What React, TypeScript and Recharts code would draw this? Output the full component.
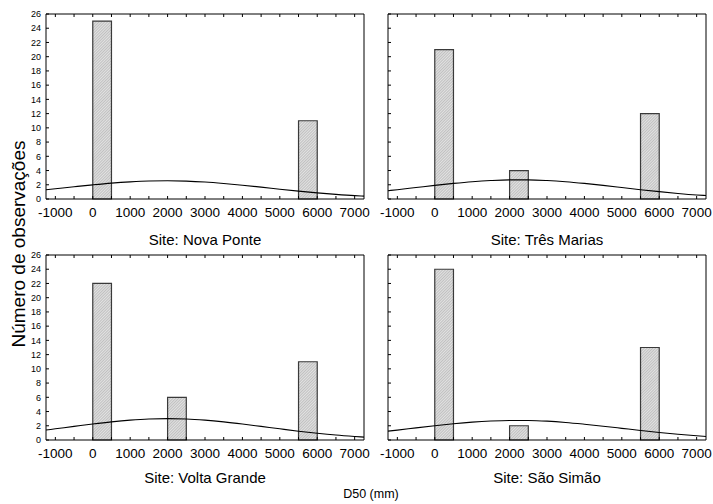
import React from 'react';
import { ComposedChart, Line, XAxis, YAxis, ReferenceArea, Label } from 'recharts';

// histogram bins (mm)
const binLow = [0, 2000, 5500];
const binHigh = [500, 2500, 6000];

// observations per bin, one list per site
const novaPonteCounts = [25, 0, 11];
const tresMariasCounts = [21, 4, 12];
const voltaGrandeCounts = [22, 6, 11];
const saoSimaoCounts = [24, 2, 13];

// fitted normal curve, sampled along D50
const curveX = [-1250, -1000, -500, 0, 500, 1000, 1500, 2000, 2500, 3000, 3500, 4000, 4500, 5000, 5500, 6000, 6500, 7000, 7250];
const novaPonteCurve = [1.3, 1.44, 1.72, 1.99, 2.23, 2.41, 2.53, 2.56, 2.51, 2.38, 2.18, 1.94, 1.67, 1.38, 1.11, 0.86, 0.65, 0.47, 0.4];
const tresMariasCurve = [1.17, 1.31, 1.61, 1.91, 2.19, 2.43, 2.6, 2.69, 2.69, 2.6, 2.43, 2.19, 1.91, 1.61, 1.31, 1.03, 0.78, 0.57, 0.49];
const voltaGrandeCurve = [1.4, 1.57, 1.91, 2.25, 2.55, 2.79, 2.95, 3.0, 2.95, 2.79, 2.55, 2.25, 1.91, 1.57, 1.24, 0.95, 0.7, 0.5, 0.41];
const saoSimaoCurve = [1.25, 1.39, 1.7, 2.0, 2.28, 2.51, 2.67, 2.75, 2.74, 2.65, 2.47, 2.22, 1.94, 1.64, 1.34, 1.05, 0.8, 0.59, 0.5];

const xTicks = [-1000, -500, 0, 500, 1000, 1500, 2000, 2500, 3000, 3500, 4000, 4500, 5000, 5500, 6000, 6500, 7000];
const yTicks = [0, 2, 4, 6, 8, 10, 12, 14, 16, 18, 20, 22, 24, 26];

const FONT = '"Liberation Sans", Arial, Helvetica, sans-serif';

interface PanelProps {
  id: string;
  title: string;
  counts: number[];
  curve: number[];
  yLabels: boolean;
  left: number;
  top: number;
  titleOffset: number;
}

const Panel: React.FC<PanelProps> = ({ id, title, counts, curve, yLabels, left, top, titleOffset }) => {
  const data = curveX.map((x, i) => ({ x, y: curve[i] }));
  const axisLine = { stroke: '#000', strokeWidth: 1 };
  const tickLine = { stroke: '#000', strokeWidth: 1 };

  return (
    <div style={{ position: 'absolute', left, top }}>
      <ComposedChart width={368} height={255} data={data} margin={{ top: 9, right: 9, bottom: 59, left: 39 }}>
        <defs>
          <pattern id={`hatch-${id}`} width="2" height="2" patternUnits="userSpaceOnUse" patternTransform="rotate(45)">
            <rect width="2" height="2" fill="#e2e2e2" />
            <line x1="0" y1="0" x2="0" y2="2" stroke="#8c8c8c" strokeWidth="0.8" />
          </pattern>
        </defs>
        <XAxis
          xAxisId="x"
          dataKey="x"
          type="number"
          domain={[-1250, 7250]}
          ticks={xTicks}
          interval={0}
          height={1}
          tickSize={-3}
          tickMargin={11}
          axisLine={axisLine}
          tickLine={tickLine}
          tick={{ fill: '#000', fontSize: 13.5, fontFamily: FONT }}
          tickFormatter={(v: number) => (v % 1000 === 0 ? String(v) : '')}
        >
          <Label value={title} position="bottom" offset={titleOffset} fill="#000" fontSize={15} fontFamily={FONT} />
        </XAxis>
        <XAxis
          xAxisId="xt"
          orientation="top"
          dataKey="x"
          type="number"
          domain={[-1250, 7250]}
          ticks={xTicks}
          interval={0}
          height={1}
          tickSize={-3}
          axisLine={axisLine}
          tickLine={tickLine}
          tickFormatter={() => ''}
        />
        <YAxis
          yAxisId="y"
          type="number"
          domain={[0, 26]}
          ticks={yTicks}
          interval={0}
          width={1}
          tickSize={-3}
          tickMargin={8}
          axisLine={axisLine}
          tickLine={tickLine}
          tick={{ fill: '#000', fontSize: 9, fontFamily: FONT }}
          tickFormatter={(v: number) => (yLabels ? String(v) : '')}
        />
        <YAxis
          yAxisId="yr"
          orientation="right"
          type="number"
          domain={[0, 26]}
          ticks={yTicks}
          interval={0}
          width={1}
          tickSize={-3}
          axisLine={axisLine}
          tickLine={tickLine}
          tickFormatter={() => ''}
        />
        {counts.map((c, i) =>
          c > 0 ? (
            <ReferenceArea
              key={`bin-${i}`}
              xAxisId="x"
              yAxisId="y"
              x1={binLow[i]}
              x2={binHigh[i]}
              y1={0}
              y2={c}
              fill={`url(#hatch-${id})`}
              fillOpacity={1}
              stroke="#3a3a3a"
              strokeWidth={1.2}
            />
          ) : null
        )}
        <Line
          xAxisId="x"
          yAxisId="y"
          dataKey="y"
          type="monotone"
          stroke="#000"
          strokeWidth={1.1}
          dot={false}
          isAnimationActive={false}
        />
      </ComposedChart>
    </div>
  );
};

export default function App() {
  return (
    <div style={{ position: 'absolute', left: 0, top: 0, width: 713, height: 504, background: '#fff', fontFamily: FONT }}>
      <Panel id="np" title="Site: Nova Ponte" counts={novaPonteCounts} curve={novaPonteCurve} yLabels left={6} top={4} titleOffset={34} />
      <Panel id="tm" title="Site: Três Marias" counts={tresMariasCounts} curve={tresMariasCurve} yLabels={false} left={348} top={4} titleOffset={34} />
      <Panel id="vg" title="Site: Volta Grande" counts={voltaGrandeCounts} curve={voltaGrandeCurve} yLabels left={6} top={245} titleOffset={31} />
      <Panel id="ss" title="Site: São Simão" counts={saoSimaoCounts} curve={saoSimaoCurve} yLabels={false} left={348} top={245} titleOffset={31} />
      <svg width={713} height={504} style={{ position: 'absolute', left: 0, top: 0, pointerEvents: 'none' }}>
        <text x={18} y={244} transform="rotate(-90 18 244)" textAnchor="middle" dominantBaseline="central" fontSize={19} fontFamily={FONT} fill="#000">
          Número de observações
        </text>
        <text x={371} y={494} textAnchor="middle" dominantBaseline="central" fontSize={12.5} fontFamily={FONT} fill="#000">
          D50 (mm)
        </text>
      </svg>
    </div>
  );
}
